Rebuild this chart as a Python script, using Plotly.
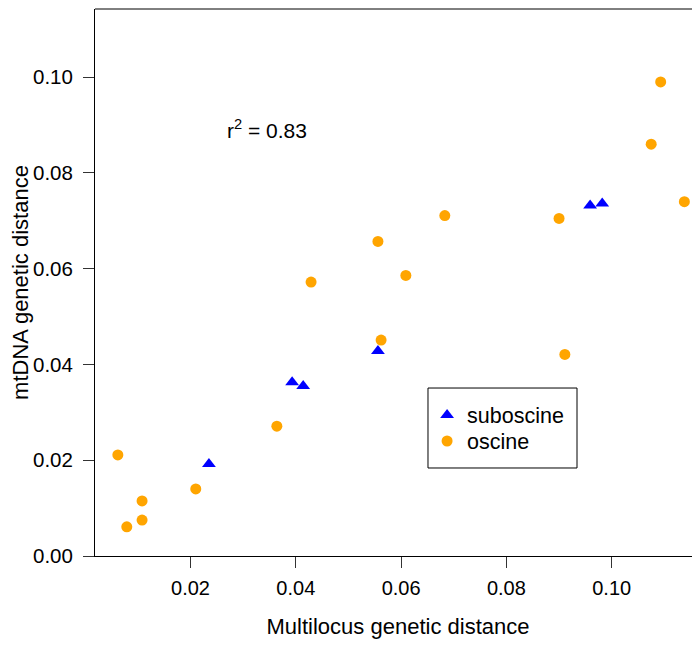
import plotly.graph_objects as go

# Data
oscine_x = [0.0062, 0.0079, 0.0108, 0.0108, 0.0210, 0.0364, 0.0429, 0.0556, 0.0562,
            0.0609, 0.0683, 0.0900, 0.0911, 0.1075, 0.1093, 0.1138]
oscine_y = [0.0211, 0.0061, 0.0115, 0.0075, 0.0140, 0.0271, 0.0572, 0.0657, 0.0451,
            0.0586, 0.0711, 0.0705, 0.0421, 0.0860, 0.0990, 0.0740]

suboscine_x = [0.0235, 0.0393, 0.0414, 0.0556, 0.0959, 0.0982]
suboscine_y = [0.0192, 0.0363, 0.0355, 0.0428, 0.0732, 0.0736]

tick_vals = [0.02, 0.04, 0.06, 0.08, 0.10]
ytick_vals = [0.00, 0.02, 0.04, 0.06, 0.08, 0.10]
tick_text = ["0.02", "0.04", "0.06", "0.08", "0.10"]
ytick_text = ["0.00", "0.02", "0.04", "0.06", "0.08", "0.10"]

FONT = "Liberation Sans, Arial, Helvetica, sans-serif"

fig = go.Figure()
fig.add_trace(go.Scatter(
    x=suboscine_x, y=suboscine_y, mode="markers", name="suboscine",
    marker=dict(symbol="triangle-up", size=12, color="#0000FF", line=dict(width=0)),
    legend="legend",
))
fig.add_trace(go.Scatter(
    x=oscine_x, y=oscine_y, mode="markers", name="oscine",
    marker=dict(symbol="circle", size=11, color="#FFA500", line=dict(width=0)),
    legend="legend2",
))

fig.add_annotation(
    x=0.0266, y=0.0891, xref="x", yref="y", xanchor="left", yanchor="middle",
    text="r<sup>2</sup> = 0.83", showarrow=False,
    font=dict(family=FONT, size=21, color="black"),
)

# top frame line
fig.add_shape(type="line", xref="paper", yref="paper", x0=0, x1=1, y0=1, y1=1,
              line=dict(color="black", width=1))
# legend frame
fig.add_shape(type="rect", xref="paper", yref="paper",
              x0=0.5495, x1=0.7954, y0=0.1609, y1=0.3071,
              line=dict(color="black", width=1), fillcolor="rgba(0,0,0,0)")

leg_common = dict(xanchor="left", yanchor="middle", borderwidth=0,
                  bgcolor="rgba(0,0,0,0)",
                  font=dict(family=FONT, size=21.5, color="black"))

fig.update_layout(
    width=700, height=648,
    margin=dict(l=87, r=7, t=1, b=100, autoexpand=False),
    plot_bgcolor="white", paper_bgcolor="white",
    font=dict(family=FONT, color="black", size=20),
    showlegend=True,
    legend=dict(x=0.5480, y=0.2578, **leg_common),
    legend2=dict(x=0.5480, y=0.2102, **leg_common),
    xaxis=dict(
        range=[0.00186, 0.11696], tickvals=tick_vals, ticktext=tick_text,
        showgrid=False, zeroline=False, showline=True, linecolor="black",
        linewidth=1, mirror=False, ticks="outside", ticklen=11, tickcolor="#333",
        tickfont=dict(size=20), automargin=False, ticklabelstandoff=3,
        title=dict(text="Multilocus genetic distance", font=dict(size=22), standoff=20),
    ),
    yaxis=dict(
        range=[0.0, 0.11423], tickvals=ytick_vals, ticktext=ytick_text,
        showgrid=False, zeroline=False, showline=True, linecolor="black",
        linewidth=1, mirror=False, ticks="outside", ticklen=11, tickcolor="#333",
        tickfont=dict(size=20.5), automargin=False, ticklabelstandoff=6,
        title=dict(text="mtDNA genetic distance", font=dict(size=22), standoff=0),
    ),
)

fig.write_html("out.html")
